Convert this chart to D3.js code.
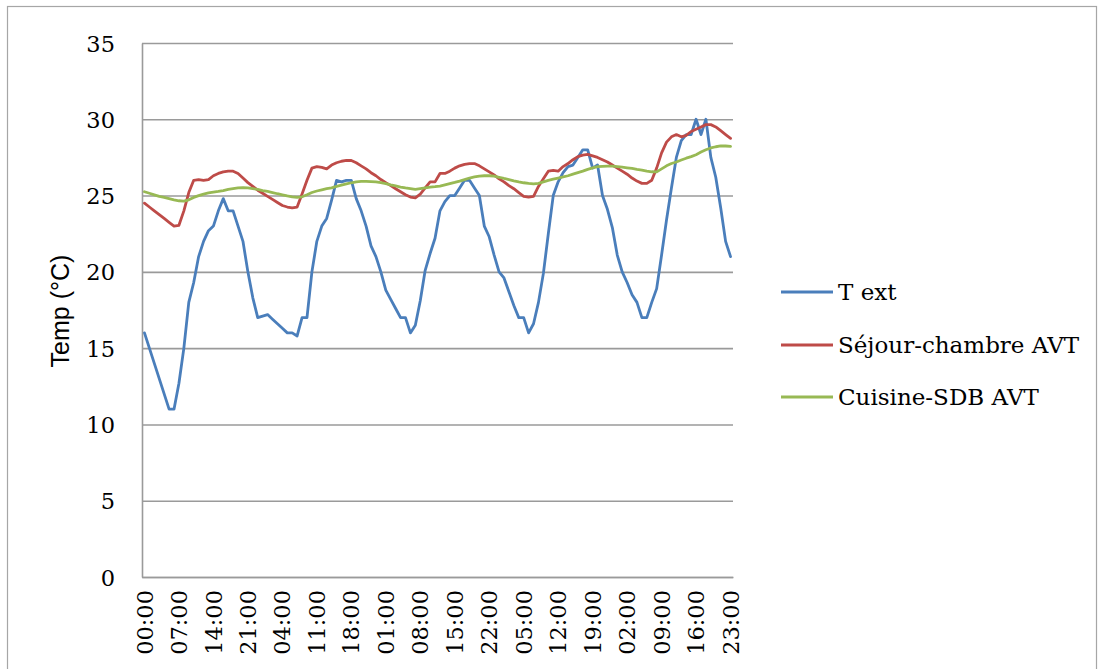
<!DOCTYPE html>
<html><head><meta charset="utf-8">
<script src="https://cdn.jsdelivr.net/npm/d3@7/dist/d3.min.js"></script>
<style>body{margin:0;background:#fff}</style>
</head><body>
<svg id="chart" width="1104" height="669"></svg>
<script>
// ---- data ----
const hourLabels = ["00:00","01:00","02:00","03:00","04:00","05:00","06:00","07:00","08:00","09:00","10:00","11:00","12:00","13:00","14:00","15:00","16:00","17:00","18:00","19:00","20:00","21:00","22:00","23:00"];
const tickLabels = ["00:00","07:00","14:00","21:00","04:00","11:00","18:00","01:00","08:00","15:00","22:00","05:00","12:00","19:00","02:00","09:00","16:00","23:00"];
const yTicks = [0,5,10,15,20,25,30,35];
const seriesNames = ["T ext","Séjour-chambre AVT","Cuisine-SDB AVT"];

const tExt = [
16,15,14,13,12,11,11,12.7,15,18,
19.3,21,22,22.7,23,24,24.8,24,24,23,
22,20,18.3,17,17.1,17.2,16.9,16.6,16.3,16,
16,15.8,17,17,20,22,23,23.5,24.7,26,
25.9,26,26,24.8,24,23,21.7,21,20,18.8,
18.2,17.6,17,17,16,16.5,18.1,20.1,21.2,22.2,
24,24.6,25,25,25.5,26,26,25.5,25,23,
22.3,21.1,20,19.6,18.7,17.8,17,17,16,16.6,
18,19.9,22.5,25,25.9,26.5,26.9,27,27.5,28,
28,26.8,27,25,24.1,22.9,21.1,20,19.3,18.5,
18,17,17,18,18.9,21.1,23.4,25.5,27.5,28.6,
29,29,30,29,30,27.5,26.2,24.2,22,21];

const sejour = [
24.5,24.25,24.0,23.75,23.5,23.25,23.0,23.05,24.0,25.2,
26.0,26.05,26.0,26.05,26.3,26.45,26.55,26.6,26.6,26.45,
26.15,25.85,25.6,25.35,25.15,24.95,24.75,24.55,24.35,24.25,
24.2,24.25,25.1,26.0,26.8,26.9,26.85,26.75,27.0,27.15,
27.25,27.3,27.3,27.15,26.95,26.75,26.5,26.3,26.05,25.85,
25.65,25.45,25.25,25.05,24.9,24.85,25.1,25.5,25.9,25.9,
26.45,26.45,26.6,26.8,26.95,27.05,27.1,27.1,26.95,26.75,
26.55,26.35,26.1,25.9,25.65,25.45,25.2,24.95,24.9,24.95,
25.6,26.1,26.6,26.65,26.6,26.9,27.1,27.35,27.55,27.65,
27.7,27.6,27.5,27.35,27.2,27.0,26.8,26.6,26.4,26.15,
25.95,25.8,25.8,26.0,26.8,27.8,28.5,28.85,29.0,28.85,
28.95,29.2,29.35,29.5,29.65,29.65,29.5,29.25,29.0,28.75];

const cuisine = [
25.25,25.15,25.05,24.95,24.88,24.8,24.72,24.66,24.63,24.72,
24.88,25.0,25.1,25.17,25.22,25.27,25.33,25.4,25.45,25.5,
25.52,25.5,25.45,25.4,25.33,25.27,25.2,25.12,25.05,24.98,
24.92,24.88,24.92,25.05,25.2,25.3,25.38,25.45,25.5,25.6,
25.68,25.76,25.84,25.9,25.93,25.93,25.92,25.9,25.85,25.78,
25.7,25.63,25.56,25.5,25.45,25.4,25.45,25.5,25.55,25.58,
25.62,25.7,25.78,25.86,25.95,26.05,26.15,26.22,26.28,26.3,
26.3,26.27,26.2,26.12,26.05,25.97,25.9,25.84,25.8,25.77,
25.8,25.9,26.0,26.08,26.15,26.22,26.3,26.4,26.5,26.6,
26.72,26.82,26.9,26.92,26.93,26.93,26.9,26.86,26.82,26.78,
26.72,26.67,26.6,26.56,26.55,26.75,26.95,27.1,27.2,27.33,
27.45,27.55,27.68,27.85,28.0,28.12,28.2,28.25,28.25,28.22];

const colors = ["#4A7EBB","#BE4B48","#98B954"];

// categories: one per hourly reading
const categories = tExt.map((_, i) => i);
const catLabel = i => hourLabels[i % 24];
const tickIdx = categories.filter(i => i % 7 === 0 && tickLabels.includes(catLabel(i)));

// ---- layout ----
const svg = d3.select("#chart");
const L = 142, R = 733, T = 43, B = 577;
const serif = "'DejaVu Serif', serif";

svg.append("rect").attr("x",7.5).attr("y",6.5).attr("width",1089).attr("height",680)
  .attr("fill","none").attr("stroke","#a6a6a6").attr("stroke-width",1.2);

const x = d3.scaleBand().domain(categories).range([L, R]);
const y = d3.scaleLinear().domain([0,35]).range([B, T]);
const cx = i => x(i) + x.bandwidth()/2;

// gridlines
const grid = svg.append("g").attr("transform",`translate(${L},0)`)
  .call(d3.axisLeft(y).tickValues(yTicks).tickSize(-(R-L)).tickFormat(""));
grid.select(".domain").remove();
grid.selectAll("line").attr("stroke","#9a9a9a").attr("stroke-width",1.6);

// y axis
const ya = svg.append("g").attr("transform",`translate(${L},0)`)
  .call(d3.axisLeft(y).tickValues(yTicks).tickSize(0).tickPadding(27));
ya.select(".domain").attr("stroke","#9a9a9a").attr("stroke-width",1.6);
ya.selectAll("text").attr("font-family",serif).attr("font-size",22.5).attr("fill","#000")
  .attr("dy","0.36em");

// x axis
const xa = svg.append("g").attr("transform",`translate(0,${B})`)
  .call(d3.axisBottom(x).tickValues(tickIdx).tickFormat(catLabel).tickSize(0));
xa.select(".domain").attr("stroke","#9a9a9a").attr("stroke-width",1.6);
xa.selectAll("text")
  .attr("transform","rotate(-90)").attr("x",-13).attr("y",0).attr("dy","0.36em")
  .style("text-anchor","end")
  .attr("font-family",serif).attr("font-size",22.5).attr("fill","#000");

// y title
svg.append("text").attr("transform","translate(69,311) rotate(-90)")
  .attr("text-anchor","middle").attr("font-family","'Liberation Sans', Arial, sans-serif")
  .attr("font-size",25).attr("fill","#000").text("Temp (°C)");

// lines
const line = d3.line().x((d,i) => cx(i)).y(d => y(d));
[tExt, sejour, cuisine].forEach((s, k) => {
  svg.append("path").datum(s).attr("d", line).attr("fill","none")
    .attr("stroke", colors[k]).attr("stroke-width",2.8)
    .attr("stroke-linejoin","round").attr("stroke-linecap","round");
});

// legend
const lg = svg.append("g");
const ly = [292, 345, 397];
seriesNames.forEach((n, k) => {
  lg.append("line").attr("x1",781).attr("x2",833).attr("y1",ly[k]).attr("y2",ly[k])
    .attr("stroke",colors[k]).attr("stroke-width",2.8);
  lg.append("text").attr("x",838).attr("y",ly[k]).attr("dy","0.35em")
    .attr("font-family",serif).attr("font-size",23).attr("fill","#000").text(n);
});
</script>
</body></html>
